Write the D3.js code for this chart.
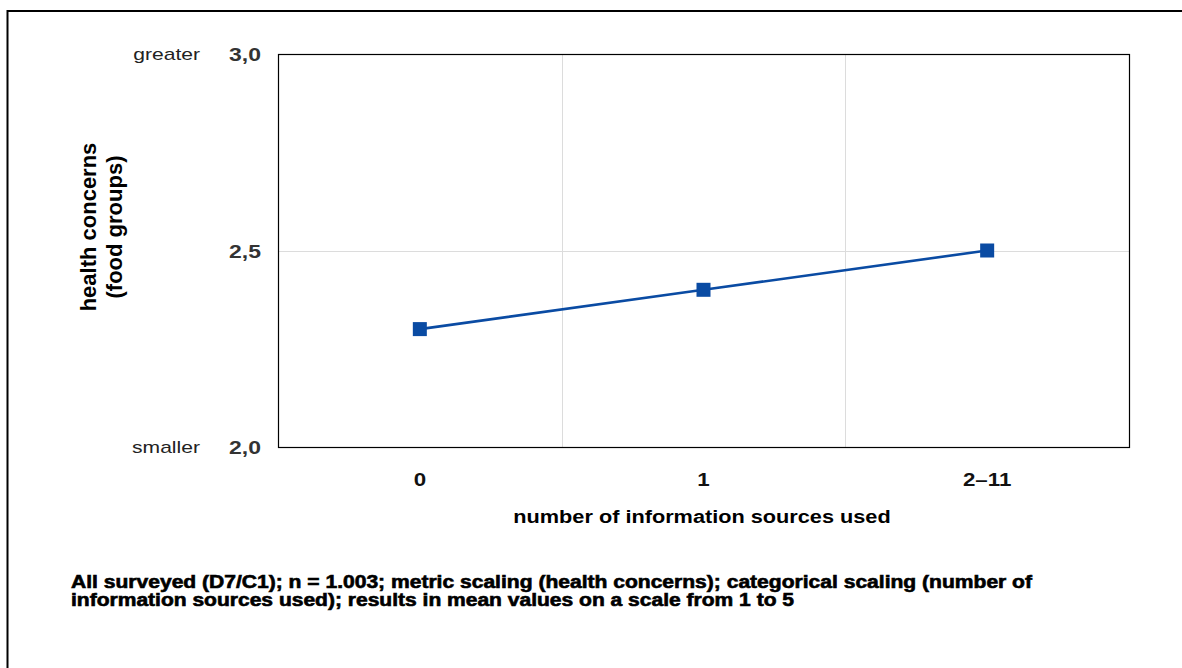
<!DOCTYPE html>
<html>
<head>
<meta charset="utf-8">
<script src="https://cdn.jsdelivr.net/npm/d3@7"></script>
<style>
  body { margin: 0; background: #fff; }
  text { font-family: "Liberation Sans", Arial, sans-serif; }
</style>
</head>
<body>
<div id="graph"></div>
<script>
'use strict';

// chart values
const categories = ["0", "1", "2\u201311"];
const meanValues = [2.30, 2.40, 2.50];
const yTicks = [2.0, 2.5, 3.0];
const yTickLabels = ["2,0", "2,5", "3,0"];
const footnoteLines = [
  "All surveyed (D7/C1); n = 1.003; metric scaling (health concerns); categorical scaling (number of",
  "information sources used); results in mean values on a scale from 1 to 5"
];

const width = 1182, height = 668;
const plot = { left: 278, top: 54, right: 1129, bottom: 447 };
const blue = "#0a4ba3";
const wide = 1.24; // the horizontal text in the original is drawn wider than normal

const svg = d3.select("#graph").append("svg")
  .attr("width", width)
  .attr("height", height);

// stretch text horizontally by a factor, keeping its anchor
function stretch(sel, factor) {
  sel.each(function() {
    const len = this.getComputedTextLength();
    d3.select(this)
      .attr("textLength", len * factor)
      .attr("lengthAdjust", "spacingAndGlyphs");
  });
}

// outer frame (runs off the right and bottom edges)
svg.append("rect")
  .attr("x", 7.5).attr("y", 11)
  .attr("width", width + 20).attr("height", height + 20)
  .attr("fill", "none").attr("stroke", "#000").attr("stroke-width", 2);

// scales
const x = d3.scaleBand().domain(categories).range([plot.left, plot.right]);
const y = d3.scaleLinear().domain([2.0, 3.0]).range([plot.bottom, plot.top]);

// grid lines
svg.append("g").selectAll("line")
  .data(yTicks.filter(d => d > 2.0 && d < 3.0))
  .enter().append("line")
    .attr("x1", plot.left).attr("x2", plot.right)
    .attr("y1", d => Math.round(y(d)) + 0.5).attr("y2", d => Math.round(y(d)) + 0.5)
    .attr("stroke", "#dcdcdc").attr("stroke-width", 1);

svg.append("g").selectAll("line")
  .data(categories.slice(1))
  .enter().append("line")
    .attr("x1", d => Math.round(x(d)) + 0.5).attr("x2", d => Math.round(x(d)) + 0.5)
    .attr("y1", plot.top).attr("y2", plot.bottom)
    .attr("stroke", "#dcdcdc").attr("stroke-width", 1);

// plot border
svg.append("rect")
  .attr("x", plot.left + 0.5).attr("y", plot.top + 0.5)
  .attr("width", plot.right - plot.left).attr("height", plot.bottom - plot.top)
  .attr("fill", "none").attr("stroke", "#000").attr("stroke-width", 1.2);

// y axis tick labels
const yAxis = d3.axisLeft(y).tickValues(yTicks)
  .tickFormat((d, i) => yTickLabels[i]).tickSize(0).tickPadding(17);
const gy = svg.append("g")
  .attr("transform", `translate(${plot.left},0)`)
  .call(yAxis);
gy.select(".domain").remove();
gy.selectAll("text")
  .style("font-size", "18.5px").style("font-weight", "bold")
  .attr("fill", "#333").attr("dy", "0.36em")
  .call(stretch, wide);

// x axis tick labels
const xAxis = d3.axisBottom(x).tickSize(0).tickPadding(26);
const gx = svg.append("g")
  .attr("transform", `translate(0,${plot.bottom})`)
  .call(xAxis);
gx.select(".domain").remove();
gx.selectAll("text")
  .style("font-size", "18px").style("font-weight", "bold")
  .attr("fill", "#111")
  .call(stretch, wide);

// greater / smaller
svg.append("g").selectAll("text")
  .data([["greater", 3.0], ["smaller", 2.0]])
  .enter().append("text")
    .attr("x", 200).attr("y", d => y(d[1])).attr("dy", "0.33em")
    .attr("text-anchor", "end").style("font-size", "17px").attr("fill", "#222")
    .text(d => d[0])
    .call(stretch, wide);

// y axis title
const yTitle = svg.append("text")
  .attr("transform", "translate(96,227)rotate(-90)")
  .attr("text-anchor", "middle")
  .style("font-size", "22px").style("font-weight", "bold");
yTitle.append("tspan").attr("x", 0).attr("dy", 0).text("health concerns");
yTitle.append("tspan").attr("x", 0).attr("dy", 26).text("(food groups)");

// x axis title
svg.append("text")
  .attr("x", 702).attr("y", 523)
  .attr("text-anchor", "middle")
  .style("font-size", "17.5px").style("font-weight", "bold")
  .text("number of information sources used")
  .call(stretch, wide);

// line and markers
const line = d3.line()
  .x((d, i) => x(categories[i]) + x.bandwidth() / 2)
  .y(d => y(d));

svg.append("path")
  .datum(meanValues)
  .attr("d", line)
  .attr("fill", "none").attr("stroke", blue).attr("stroke-width", 2.6);

const markerSize = 14;
svg.selectAll(".marker")
  .data(meanValues)
  .enter().append("rect")
    .attr("class", "marker")
    .attr("x", (d, i) => x(categories[i]) + x.bandwidth() / 2 - markerSize / 2)
    .attr("y", d => y(d) - markerSize / 2)
    .attr("width", markerSize).attr("height", markerSize)
    .attr("fill", blue);

// footnote (heavy face, so add a thin stroke)
svg.append("g").selectAll("text")
  .data(footnoteLines)
  .enter().append("text")
    .attr("x", 71).attr("y", (d, i) => 588 + i * 18)
    .style("font-size", "17.5px").style("font-weight", "bold")
    .attr("stroke", "#000").attr("stroke-width", 0.6)
    .attr("textLength", (d, i) => i === 0 ? 961 : 723)
    .attr("lengthAdjust", "spacingAndGlyphs")
    .text(d => d);
</script>
</body>
</html>
